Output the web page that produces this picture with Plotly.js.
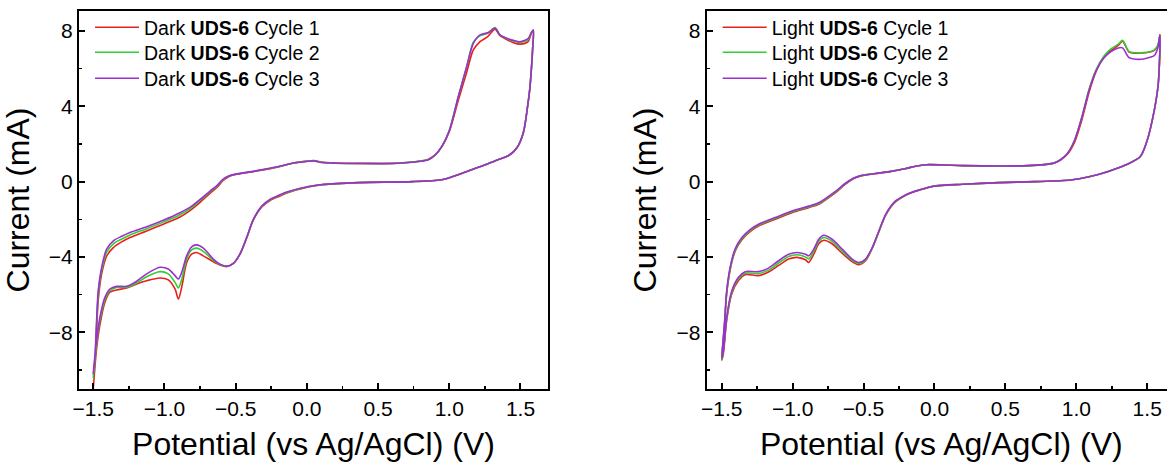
<!DOCTYPE html>
<html><head><meta charset="utf-8">
<script src="https://cdn.plot.ly/plotly-3.0.1.min.js"></script>
<style>html,body{margin:0;padding:0;overflow:hidden;background:#fff;width:1167px;height:467px}#chart{width:1180px;height:467px}</style>
</head><body><div id="chart"></div><script>
// ---------- Dark (left panel) ----------
const DARK_UP_X = [-1.5,-1.488,-1.465,-1.441,-1.406,-1.359,-1.30,-1.242,-1.125,-1.008,-0.891,-0.809,-0.75,-0.68,-0.63,-0.59,-0.55,-0.5,-0.4,-0.3,-0.2,-0.1,0.0,0.05,0.1,0.2,0.4,0.6,0.7,0.8,0.85,0.9,0.95,1.0,1.063,1.122,1.169,1.216,1.27,1.321,1.356,1.403,1.45,1.497,1.555,1.575,1.59];
const DARK_C1_UP = [-11.0,-9.8,-6.3,-4.9,-3.95,-3.5,-3.2,-2.97,-2.62,-2.26,-1.88,-1.47,-1.1,-0.62,-0.3,0.05,0.26,0.38,0.5,0.63,0.78,0.98,1.09,1.12,1.04,0.99,0.97,0.97,1.02,1.1,1.18,1.42,1.88,2.65,4.3,5.8,6.99,7.43,7.7,8.1,7.75,7.55,7.38,7.3,7.45,7.85,8.05];
const DARK_C2_UP = [-10.4,-9.5,-6.0,-4.7,-3.75,-3.3,-3.05,-2.83,-2.5,-2.15,-1.76,-1.38,-1.0,-0.55,-0.24,0.09,0.28,0.39,0.51,0.64,0.79,0.98,1.08,1.11,1.03,0.98,0.96,0.96,1.01,1.09,1.16,1.41,1.9,2.72,4.5,6.1,7.4,7.75,7.88,8.18,7.8,7.6,7.47,7.4,7.55,7.88,8.05];
const DARK_C3_UP = [-10.2,-9.3,-5.79,-4.55,-3.58,-3.14,-2.9,-2.70,-2.40,-2.05,-1.65,-1.30,-0.94,-0.50,-0.2,0.12,0.3,0.4,0.52,0.65,0.8,0.98,1.07,1.1,1.02,0.98,0.96,0.96,1.0,1.08,1.15,1.4,1.9,2.7,4.51,6.10,7.34,7.79,7.9,8.14,7.79,7.61,7.5,7.43,7.61,7.9,8.05];
const DARK_DN_X = [1.585,1.575,1.565,1.55,1.52,1.475,1.42,1.32,1.22,1.12,1.02,0.944,0.742,0.364,0.111,0.01,-0.14,-0.188,-0.259,-0.317,-0.376,-0.423,-0.470,-0.516,-0.563,-0.610,-0.657,-0.727,-0.774,-0.809,-0.844,-0.879,-0.902,-0.926,-0.973,-1.031,-1.125,-1.195,-1.266,-1.336,-1.383,-1.418,-1.453,-1.477,-1.5];
const DARK_C1_DN = [7.0,5.8,4.9,4.0,2.6,1.8,1.4,1.1,0.8,0.53,0.26,0.1,0.0,-0.05,-0.16,-0.28,-0.6,-0.76,-1.0,-1.35,-2.05,-3.0,-3.85,-4.34,-4.50,-4.42,-4.25,-3.94,-3.76,-3.85,-4.3,-5.61,-6.23,-5.7,-5.22,-5.12,-5.26,-5.43,-5.65,-5.75,-5.87,-6.4,-7.6,-8.9,-11.0];
const DARK_C2_DN = [7.0,5.8,4.9,4.0,2.6,1.8,1.4,1.1,0.8,0.53,0.26,0.1,0.0,-0.05,-0.15,-0.27,-0.57,-0.72,-0.96,-1.32,-2.02,-2.98,-3.85,-4.34,-4.50,-4.4,-4.18,-3.7,-3.53,-3.62,-4.1,-5.2,-5.64,-5.35,-4.9,-4.78,-5.05,-5.38,-5.61,-5.62,-5.78,-6.25,-7.35,-8.6,-10.4];
const DARK_C3_DN = [7.0,5.8,4.9,4.0,2.6,1.8,1.4,1.1,0.8,0.53,0.26,0.1,0.0,-0.05,-0.15,-0.26,-0.55,-0.7,-0.94,-1.30,-2.0,-2.97,-3.85,-4.34,-4.50,-4.38,-4.11,-3.53,-3.36,-3.46,-3.94,-4.82,-5.17,-4.99,-4.64,-4.55,-4.90,-5.29,-5.56,-5.56,-5.70,-6.14,-7.19,-8.43,-10.2];

// ---------- Light (right panel) ----------
const LIGHT_UP_X = [-1.5,-1.481,-1.465,-1.441,-1.406,-1.358,-1.30,-1.241,-1.123,-1.005,-0.887,-0.816,-0.745,-0.686,-0.63,-0.572,-0.52,-0.42,-0.316,-0.21,-0.133,-0.056,0.072,0.2,0.455,0.66,0.835,0.886,0.937,0.988,1.04,1.09,1.14,1.193,1.244,1.296,1.326,1.372,1.42,1.474,1.52,1.55,1.575,1.59];
const LIGHT_C1_UP = [-9.48,-7.7,-5.95,-4.7,-3.7,-3.08,-2.65,-2.36,-2.0,-1.65,-1.38,-1.2,-0.85,-0.52,-0.15,0.15,0.3,0.42,0.53,0.68,0.82,0.9,0.88,0.85,0.83,0.85,0.97,1.13,1.45,2.1,3.3,4.75,5.85,6.6,6.95,7.23,7.46,6.88,6.82,6.83,6.88,6.97,7.2,7.8];
const LIGHT_C2_UP = [-9.45,-7.65,-5.9,-4.65,-3.65,-3.03,-2.6,-2.31,-1.95,-1.6,-1.34,-1.16,-0.81,-0.48,-0.12,0.17,0.31,0.43,0.53,0.68,0.82,0.9,0.88,0.85,0.83,0.85,0.97,1.15,1.5,2.2,3.45,4.9,5.95,6.65,7.05,7.3,7.5,6.9,6.84,6.85,6.9,7.0,7.25,7.8];
const LIGHT_C3_UP = [-9.39,-7.55,-5.79,-4.55,-3.58,-2.97,-2.55,-2.26,-1.91,-1.56,-1.30,-1.12,-0.77,-0.45,-0.1,0.18,0.32,0.43,0.53,0.68,0.82,0.9,0.88,0.85,0.83,0.85,0.97,1.15,1.5,2.2,3.44,4.85,5.9,6.55,6.9,7.1,7.1,6.58,6.5,6.51,6.6,6.7,7.1,7.8];
const LIGHT_DN_X = [1.578,1.55,1.5,1.45,1.346,1.22,1.09,0.96,0.71,0.455,0.2,0.0,-0.11,-0.179,-0.226,-0.285,-0.344,-0.392,-0.439,-0.486,-0.533,-0.580,-0.651,-0.722,-0.781,-0.816,-0.851,-0.887,-0.910,-0.969,-1.028,-1.099,-1.170,-1.241,-1.335,-1.382,-1.429,-1.465,-1.488,-1.5];
const LIGHT_C1_DN = [5.2,3.8,2.2,1.32,0.88,0.53,0.26,0.09,0.0,-0.05,-0.14,-0.24,-0.46,-0.64,-0.82,-1.14,-1.78,-2.66,-3.55,-4.2,-4.41,-4.25,-3.8,-3.3,-3.11,-3.3,-3.85,-4.29,-4.15,-4.02,-4.11,-4.45,-4.8,-4.99,-4.94,-5.25,-5.95,-7.35,-9.1,-9.48];
const LIGHT_C2_DN = [5.2,3.8,2.2,1.32,0.88,0.53,0.26,0.09,0.0,-0.05,-0.14,-0.23,-0.45,-0.63,-0.81,-1.12,-1.76,-2.64,-3.52,-4.15,-4.35,-4.18,-3.68,-3.17,-2.97,-3.17,-3.7,-4.1,-4.0,-3.88,-3.97,-4.32,-4.7,-4.88,-4.86,-5.16,-5.87,-7.27,-9.0,-9.45];
const LIGHT_C3_DN = [5.2,3.8,2.2,1.32,0.88,0.53,0.26,0.09,0.0,-0.05,-0.14,-0.23,-0.45,-0.62,-0.8,-1.1,-1.74,-2.62,-3.50,-4.11,-4.29,-4.11,-3.58,-3.06,-2.85,-3.06,-3.58,-3.94,-3.85,-3.76,-3.85,-4.20,-4.59,-4.78,-4.78,-5.08,-5.79,-7.19,-8.95,-9.39];

const CYCLE_NAMES = ['Cycle 1','Cycle 2','Cycle 3'];
const CYCLE_COLORS = ['#e8201c','#33cc33','#9b2fcf'];
const SAMPLE = 'UDS-6';

const FONT = 'Arial, "Liberation Sans", sans-serif';

function loop(upX, upY, dnX, dnY){ return {x: upX.concat(dnX), y: upY.concat(dnY)}; }

const darkUp = [DARK_C1_UP, DARK_C2_UP, DARK_C3_UP];
const darkDn = [DARK_C1_DN, DARK_C2_DN, DARK_C3_DN];
const lightUp = [LIGHT_C1_UP, LIGHT_C2_UP, LIGHT_C3_UP];
const lightDn = [LIGHT_C1_DN, LIGHT_C2_DN, LIGHT_C3_DN];

const traces = [];
for (let i = 0; i < 3; i++) {
  const d = loop(DARK_UP_X, darkUp[i], DARK_DN_X, darkDn[i]);
  traces.push({type:'scatter', mode:'lines', x:d.x, y:d.y, xaxis:'x', yaxis:'y', legend:'legend' + (i === 0 ? '' : (i + 1)),
    name:'Dark <b>' + SAMPLE + '</b> ' + CYCLE_NAMES[i],
    line:{color:CYCLE_COLORS[i], width:1.6, shape:'spline', smoothing:0.8}});
}
for (let i = 0; i < 3; i++) {
  const d = loop(LIGHT_UP_X, lightUp[i], LIGHT_DN_X, lightDn[i]);
  traces.push({type:'scatter', mode:'lines', x:d.x, y:d.y, xaxis:'x2', yaxis:'y2', legend:'legend' + (i + 4),
    name:'Light <b>' + SAMPLE + '</b> ' + CYCLE_NAMES[i],
    line:{color:CYCLE_COLORS[i], width:1.6, shape:'spline', smoothing:0.8}});
}

function xAxis(domain, range, anchor){
  return {domain:domain, range:range, anchor:anchor, showline:true, mirror:true, linecolor:'#000', linewidth:2,
    ticks:'inside', ticklen:6, tickwidth:2, tickcolor:'#000', tick0:0, dtick:0.5, tickformat:'.1f',
    minor:{dtick:0.25, ticks:'inside', ticklen:3, tickwidth:1.6, tickcolor:'#000', showgrid:false},
    showgrid:false, zeroline:false, automargin:false, fixedrange:true,
    tickfont:{family:FONT, size:21, color:'#000'},
    title:{text:'Potential (vs Ag/AgCl) (V)', standoff:13, font:{family:FONT, size:32, color:'#000'}}};
}
function yAxis(domain, anchor){
  return {domain:domain, range:[-11.01, 9.06], anchor:anchor, showline:true, mirror:true, linecolor:'#000', linewidth:2,
    ticks:'inside', ticklen:6, tickwidth:2, tickcolor:'#000', tick0:0, dtick:4,
    minor:{dtick:2, ticks:'inside', ticklen:3, tickwidth:1.6, tickcolor:'#000', showgrid:false},
    showgrid:false, zeroline:false, automargin:false, fixedrange:true,
    tickfont:{family:FONT, size:21, color:'#000'},
    title:{text:'Current (mA)', standoff:10, font:{family:FONT, size:32, color:'#000'}}};
}

// legend rows: one legend per entry so the row pitch matches the original
const PLOT_T = 11, PLOT_H = 378, PLOT_L = 79, PLOT_W = 1097;
const LEG_ROW_TOP = [8, 33, 59];
const LEG_LEFT = [90, 717.7];
function legendAt(panel, row){
  return {x:(LEG_LEFT[panel] - PLOT_L) / PLOT_W, y:1 - (LEG_ROW_TOP[row] - PLOT_T) / PLOT_H,
    xanchor:'left', yanchor:'top', bgcolor:'rgba(0,0,0,0)', borderwidth:0,
    font:{family:FONT, size:19.5, color:'#000'}, tracegroupgap:0, itemwidth:44};
}

const layout = {
  width:1180, height:467,
  margin:{l:PLOT_L, r:4, t:PLOT_T, b:78},
  paper_bgcolor:'#fff', plot_bgcolor:'#fff',
  showlegend:true,
  xaxis: xAxis([0, 0.4275], [-1.600, 1.693], 'y'),
  yaxis: yAxis([0, 1], 'x'),
  xaxis2: xAxis([0.5722, 1], [-1.606, 1.703], 'y2'),
  yaxis2: yAxis([0, 1], 'x2'),
  legend: legendAt(0, 0), legend2: legendAt(0, 1), legend3: legendAt(0, 2),
  legend4: legendAt(1, 0), legend5: legendAt(1, 1), legend6: legendAt(1, 2)
};

Plotly.newPlot('chart', traces, layout, {staticPlot:true, displayModeBar:false});
</script></body></html>
